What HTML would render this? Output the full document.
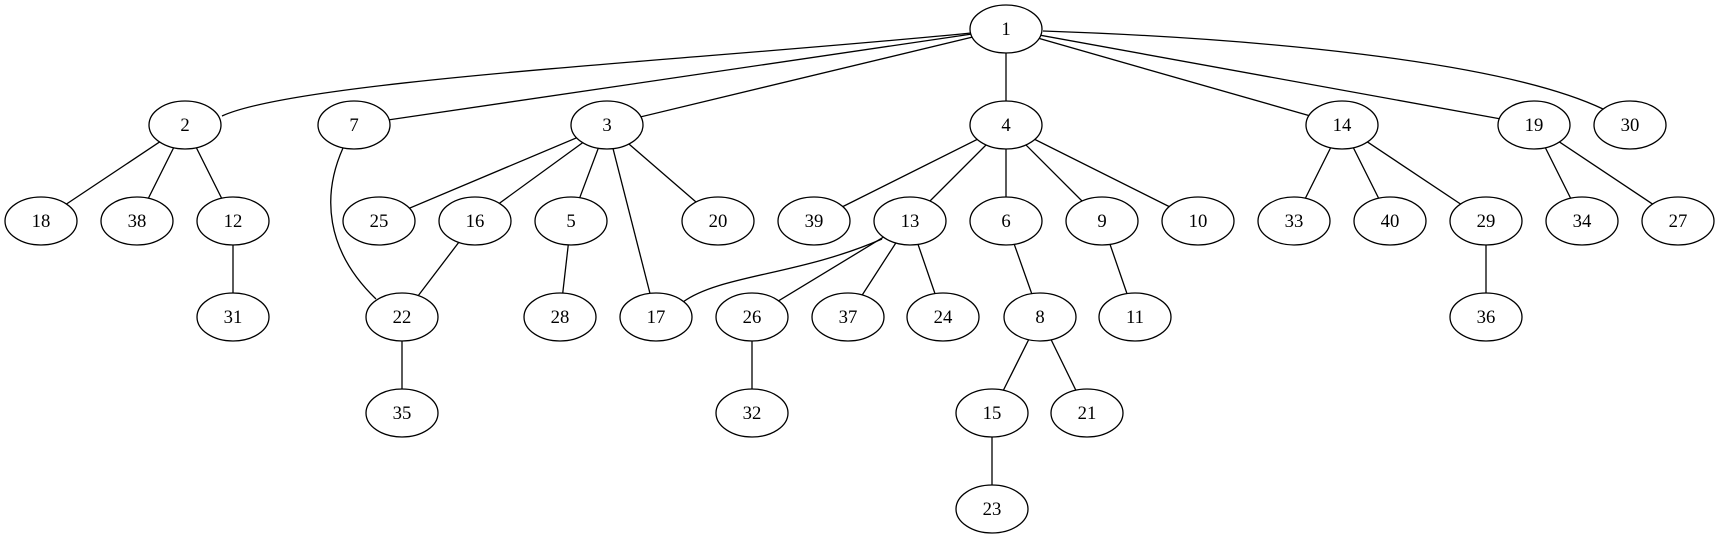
<!DOCTYPE html>
<html><head><style>html,body{margin:0;padding:0;background:#fff}svg{display:block}</style></head><body>
<svg width="1720" height="539" viewBox="0 0 1720 539" xmlns="http://www.w3.org/2000/svg">
<g stroke="#000" stroke-width="1.3" fill="none">
<path d="M971,33 C700,60 300,80 222,116"/>
<line x1="1006" y1="29" x2="354" y2="125"/>
<line x1="1006" y1="29" x2="607" y2="125"/>
<line x1="1006" y1="29" x2="1006" y2="125"/>
<line x1="1006" y1="29" x2="1342" y2="125"/>
<line x1="1006" y1="29" x2="1534" y2="125"/>
<path d="M1043,31 C1250,38 1500,60 1603,109"/>
<line x1="185" y1="125" x2="41" y2="221"/>
<line x1="185" y1="125" x2="137" y2="221"/>
<line x1="185" y1="125" x2="233" y2="221"/>
<line x1="233" y1="221" x2="233" y2="317"/>
<path d="M343,148 C322,195 325,250 376,299"/>
<line x1="607" y1="125" x2="379" y2="221"/>
<line x1="607" y1="125" x2="475" y2="221"/>
<line x1="607" y1="125" x2="571" y2="221"/>
<line x1="607" y1="125" x2="718" y2="221"/>
<line x1="607" y1="125" x2="656" y2="317"/>
<line x1="475" y1="221" x2="402" y2="317"/>
<line x1="571" y1="221" x2="560" y2="317"/>
<line x1="402" y1="317" x2="402" y2="413"/>
<line x1="1006" y1="125" x2="814" y2="221"/>
<line x1="1006" y1="125" x2="910" y2="221"/>
<line x1="1006" y1="125" x2="1006" y2="221"/>
<line x1="1006" y1="125" x2="1102" y2="221"/>
<line x1="1006" y1="125" x2="1198" y2="221"/>
<path d="M882,239 C800,275 720,275 683,302"/>
<line x1="910" y1="221" x2="752" y2="317"/>
<line x1="910" y1="221" x2="848" y2="317"/>
<line x1="910" y1="221" x2="943" y2="317"/>
<line x1="752" y1="317" x2="752" y2="413"/>
<line x1="1006" y1="221" x2="1040" y2="317"/>
<line x1="1102" y1="221" x2="1135" y2="317"/>
<line x1="1040" y1="317" x2="992" y2="413"/>
<line x1="1040" y1="317" x2="1087" y2="413"/>
<line x1="992" y1="413" x2="992" y2="509"/>
<line x1="1342" y1="125" x2="1294" y2="221"/>
<line x1="1342" y1="125" x2="1390" y2="221"/>
<line x1="1342" y1="125" x2="1486" y2="221"/>
<line x1="1486" y1="221" x2="1486" y2="317"/>
<line x1="1534" y1="125" x2="1582" y2="221"/>
<line x1="1534" y1="125" x2="1678" y2="221"/>
</g>
<g stroke="#000" stroke-width="1.3" fill="#fff">
<ellipse cx="1006" cy="29" rx="36" ry="24"/>
<ellipse cx="185" cy="125" rx="36" ry="24"/>
<ellipse cx="354" cy="125" rx="36" ry="24"/>
<ellipse cx="607" cy="125" rx="36" ry="24"/>
<ellipse cx="1006" cy="125" rx="36" ry="24"/>
<ellipse cx="1342" cy="125" rx="36" ry="24"/>
<ellipse cx="1534" cy="125" rx="36" ry="24"/>
<ellipse cx="1630" cy="125" rx="36" ry="24"/>
<ellipse cx="41" cy="221" rx="36" ry="24"/>
<ellipse cx="137" cy="221" rx="36" ry="24"/>
<ellipse cx="233" cy="221" rx="36" ry="24"/>
<ellipse cx="379" cy="221" rx="36" ry="24"/>
<ellipse cx="475" cy="221" rx="36" ry="24"/>
<ellipse cx="571" cy="221" rx="36" ry="24"/>
<ellipse cx="718" cy="221" rx="36" ry="24"/>
<ellipse cx="814" cy="221" rx="36" ry="24"/>
<ellipse cx="910" cy="221" rx="36" ry="24"/>
<ellipse cx="1006" cy="221" rx="36" ry="24"/>
<ellipse cx="1102" cy="221" rx="36" ry="24"/>
<ellipse cx="1198" cy="221" rx="36" ry="24"/>
<ellipse cx="1294" cy="221" rx="36" ry="24"/>
<ellipse cx="1390" cy="221" rx="36" ry="24"/>
<ellipse cx="1486" cy="221" rx="36" ry="24"/>
<ellipse cx="1582" cy="221" rx="36" ry="24"/>
<ellipse cx="1678" cy="221" rx="36" ry="24"/>
<ellipse cx="233" cy="317" rx="36" ry="24"/>
<ellipse cx="402" cy="317" rx="36" ry="24"/>
<ellipse cx="560" cy="317" rx="36" ry="24"/>
<ellipse cx="656" cy="317" rx="36" ry="24"/>
<ellipse cx="752" cy="317" rx="36" ry="24"/>
<ellipse cx="848" cy="317" rx="36" ry="24"/>
<ellipse cx="943" cy="317" rx="36" ry="24"/>
<ellipse cx="1040" cy="317" rx="36" ry="24"/>
<ellipse cx="1135" cy="317" rx="36" ry="24"/>
<ellipse cx="1486" cy="317" rx="36" ry="24"/>
<ellipse cx="402" cy="413" rx="36" ry="24"/>
<ellipse cx="752" cy="413" rx="36" ry="24"/>
<ellipse cx="992" cy="413" rx="36" ry="24"/>
<ellipse cx="1087" cy="413" rx="36" ry="24"/>
<ellipse cx="992" cy="509" rx="36" ry="24"/>
</g>
<g font-family="Liberation Serif, serif" font-size="18.7" text-anchor="middle" fill="#000">
<text x="1006" y="35">1</text>
<text x="185" y="131">2</text>
<text x="354" y="131">7</text>
<text x="607" y="131">3</text>
<text x="1006" y="131">4</text>
<text x="1342" y="131">14</text>
<text x="1534" y="131">19</text>
<text x="1630" y="131">30</text>
<text x="41" y="227">18</text>
<text x="137" y="227">38</text>
<text x="233" y="227">12</text>
<text x="379" y="227">25</text>
<text x="475" y="227">16</text>
<text x="571" y="227">5</text>
<text x="718" y="227">20</text>
<text x="814" y="227">39</text>
<text x="910" y="227">13</text>
<text x="1006" y="227">6</text>
<text x="1102" y="227">9</text>
<text x="1198" y="227">10</text>
<text x="1294" y="227">33</text>
<text x="1390" y="227">40</text>
<text x="1486" y="227">29</text>
<text x="1582" y="227">34</text>
<text x="1678" y="227">27</text>
<text x="233" y="323">31</text>
<text x="402" y="323">22</text>
<text x="560" y="323">28</text>
<text x="656" y="323">17</text>
<text x="752" y="323">26</text>
<text x="848" y="323">37</text>
<text x="943" y="323">24</text>
<text x="1040" y="323">8</text>
<text x="1135" y="323">11</text>
<text x="1486" y="323">36</text>
<text x="402" y="419">35</text>
<text x="752" y="419">32</text>
<text x="992" y="419">15</text>
<text x="1087" y="419">21</text>
<text x="992" y="515">23</text>
</g>
</svg>
</body></html>
